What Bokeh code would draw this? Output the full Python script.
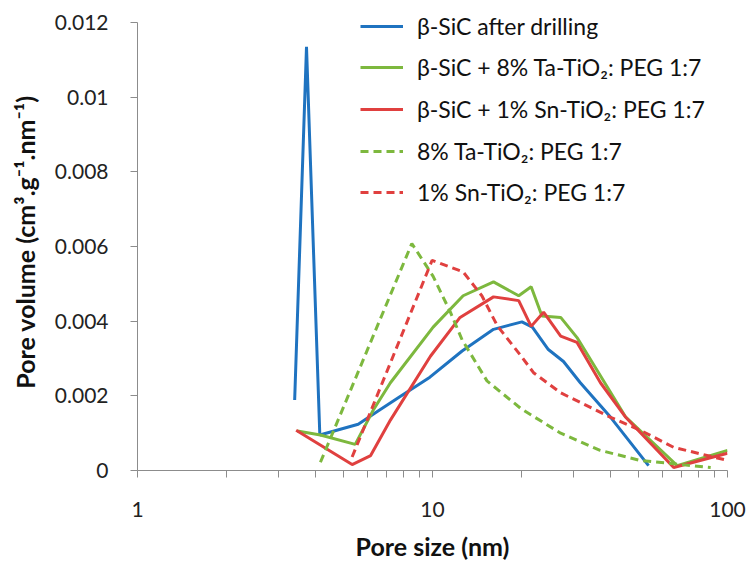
from bokeh.plotting import figure
from bokeh.models import (Range1d, FixedTicker, CustomJSTickFormatter,
                          Legend, LegendItem)
from bokeh.embed import file_html
from bokeh.resources import INLINE

# Pore size distributions (pore size in nm, pore volume in cm3/g/nm)
sic_x = [3.41, 3.74, 4.15, 5.6, 6.5, 7.7, 9.8, 12.6, 16.1, 20.1, 21.8, 24.7, 27.8, 31.7, 40.1, 54.0]
sic_y = [0.00189, 0.01135, 0.00095, 0.00124, 0.00158, 0.00196, 0.0025, 0.0032, 0.00378, 0.00398,
         0.00384, 0.00324, 0.00292, 0.00235, 0.00143, 0.00013]

sic_ta_x = [3.48, 4.17, 5.47, 6.3, 7.2, 10.05, 12.7, 16.1, 19.6, 21.6, 23.5, 27.2, 30.9, 45.1, 67.5, 100.0]
sic_ta_y = [0.00106, 0.00095, 0.0007, 0.00162, 0.00235, 0.00384, 0.00468, 0.00505, 0.00468, 0.00492,
            0.00414, 0.0041, 0.00356, 0.00144, 0.00013, 0.00054]

sic_sn_x = [3.45, 5.34, 6.17, 7.2, 9.84, 12.4, 16.1, 19.6, 21.6, 23.8, 27.2, 30.9, 37.1, 45.0, 65.7, 100.0]
sic_sn_y = [0.00108, 0.00016, 0.0004, 0.00135, 0.00306, 0.0041, 0.00465, 0.00455, 0.00386, 0.00424,
            0.0036, 0.00343, 0.00235, 0.00144, 0.00008, 0.00046]

ta_x = [4.17, 8.51, 10.05, 11.5, 12.6, 15.3, 20.0, 27.2, 37.0, 50.6, 87.7]
ta_y = [0.00022, 0.00608, 0.0052, 0.00424, 0.0035, 0.0024, 0.00165, 0.001, 0.00054, 0.00027, 0.00008]

sn_x = [5.34, 9.97, 12.7, 14.7, 16.6, 20.0, 22.0, 27.2, 40.0, 50.6, 65.7, 100.0]
sn_y = [0.00036, 0.00563, 0.00532, 0.00468, 0.00387, 0.00306, 0.00262, 0.00208, 0.00143, 0.00108,
        0.00062, 0.00027]

series_labels = [
    "β-SiC after drilling",
    "β-SiC + 8% Ta-TiO₂: PEG 1:7",
    "β-SiC + 1% Sn-TiO₂: PEG 1:7",
    "8% Ta-TiO₂: PEG 1:7",
    "1% Sn-TiO₂: PEG 1:7",
]

x_major = [1, 10, 100]
x_minor = [2, 3, 4, 5, 6, 7, 8, 9, 20, 30, 40, 50, 60, 70, 80, 90]
y_ticks = [0, 0.002, 0.004, 0.006, 0.008, 0.01, 0.012]

BLUE = "#1F73C0"
GREEN = "#7DB83E"
RED = "#E0403F"
AXIS = "#8C8C8C"
FONT = "Lato"

# the frame reaches a little above 0.012 so the top legend row has room;
# the y axis line itself stops at 0.012 through its bounds
p = figure(width=749, height=563, x_axis_type="log",
           x_range=Range1d(1, 100), y_range=Range1d(0, 0.0124),
           output_backend="svg", toolbar_location=None,
           min_border_left=137, min_border_right=22,
           min_border_top=7, min_border_bottom=93)
p.outline_line_color = None
p.xgrid.visible = False
p.ygrid.visible = False

lw = 3
r1 = p.line(sic_x, sic_y, line_color=BLUE, line_width=lw)
r2 = p.line(sic_ta_x, sic_ta_y, line_color=GREEN, line_width=lw)
r3 = p.line(sic_sn_x, sic_sn_y, line_color=RED, line_width=lw)
r4 = p.line(ta_x, ta_y, line_color=GREEN, line_width=lw, line_dash="8 5")
r5 = p.line(sn_x, sn_y, line_color=RED, line_width=lw, line_dash="8 5")

# x axis: log scale with plain decade labels
xa = p.xaxis[0]
xa.ticker = FixedTicker(ticks=x_major, minor_ticks=x_minor)
xa.formatter = CustomJSTickFormatter(code="return String(Math.round(tick));")
xa.axis_line_color = AXIS
xa.major_tick_line_color = AXIS
xa.minor_tick_line_color = AXIS
xa.major_tick_out = 7
xa.major_tick_in = 0
xa.minor_tick_out = 7
xa.minor_tick_in = 0
xa.major_label_text_font = FONT
xa.major_label_text_font_size = "21px"
xa.major_label_text_color = "#222222"
xa.major_label_standoff = 24
xa.axis_label = "Pore size (nm)"
xa.axis_label_text_font = FONT
xa.axis_label_text_font_size = "25px"
xa.axis_label_text_font_style = "bold"
xa.axis_label_text_color = "#111111"
xa.axis_label_standoff = 11

ya = p.yaxis[0]
ya.bounds = (0, 0.012)
ya.ticker = FixedTicker(ticks=y_ticks, minor_ticks=[])
ya.formatter = CustomJSTickFormatter(code="return tick.toFixed(3).replace(/\\.?0+$/, '');")
ya.axis_line_color = AXIS
ya.major_tick_line_color = AXIS
ya.major_tick_out = 7
ya.major_tick_in = 0
ya.minor_tick_line_color = None
ya.major_label_text_font = FONT
ya.major_label_text_font_size = "21px"
ya.major_label_text_color = "#222222"
ya.major_label_standoff = 22
ya.axis_label = "Pore volume  (cm³.g⁻¹.nm⁻¹)"
ya.axis_label_text_font = FONT
ya.axis_label_text_font_size = "25px"
ya.axis_label_text_font_style = "bold"
ya.axis_label_text_color = "#111111"
ya.axis_label_standoff = 12

# one legend row per series, stacked from the top of the frame
row_bottoms = [430, 389, 347, 305, 264]
for lab, r, yb in zip(series_labels, [r1, r2, r3, r4, r5], row_bottoms):
    leg = Legend(
        items=[LegendItem(label=lab, renderers=[r])],
        location=(223, yb), padding=0, margin=0, spacing=0,
        label_height=26, glyph_height=26, glyph_width=43, label_standoff=14,
        label_text_font=FONT, label_text_font_size="23px", label_text_color="#111111",
        border_line_alpha=0, background_fill_alpha=0,
    )
    p.add_layout(leg)

open("out.html", "w").write(file_html(p, INLINE))
